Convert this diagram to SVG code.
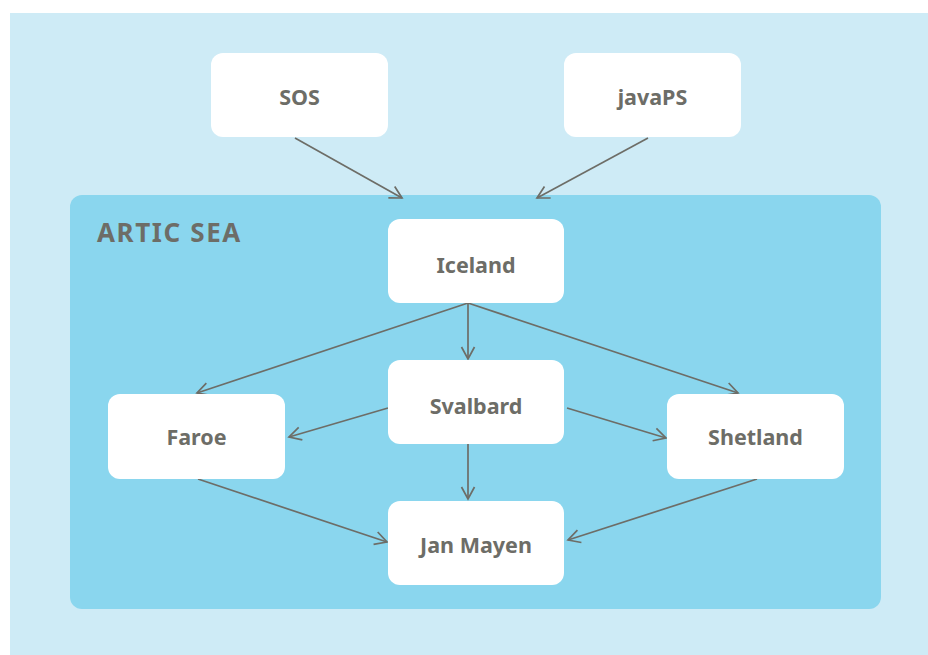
<svg xmlns="http://www.w3.org/2000/svg" width="928" height="655" viewBox="0 0 928 655">
  <defs>
    <style>
      .bg { fill: #ceebf6; }
      .cluster { fill: #8ad6ee; }
      .box { fill: #ffffff; }
      .label { font-family: "Noto Sans", "Open Sans", sans-serif; font-weight: 700; font-size: 21.5px; fill: #6d6d67; text-anchor: middle; }
      .title { font-family: "Noto Sans", "Open Sans", sans-serif; font-weight: 700; font-size: 26px; fill: #6d6d67; letter-spacing: 1.6px; }
      .edge { fill: none; stroke: #6d6d67; stroke-width: 1.7; marker-end: url(#arrow); }
    </style>
    <marker id="arrow" viewBox="-14 -8 16 16" refX="0" refY="0" markerWidth="16" markerHeight="16" markerUnits="userSpaceOnUse" orient="auto">
      <path d="M -12 -6.5 L 0 0 L -12 6.5" fill="none" stroke="#6d6d67" stroke-width="1.7"/>
    </marker>
  </defs>

  <rect class="bg" x="10" y="13" width="918" height="642"/>

  <g id="artic-sea">
    <rect class="cluster" x="70" y="195" width="811" height="414" rx="12"/>
    <text class="title" x="97" y="242">ARTIC SEA</text>
  </g>

  <g id="connectors">
    <line class="edge" x1="295" y1="138" x2="402" y2="198"/>
    <line class="edge" x1="648" y1="138" x2="537" y2="198"/>
    <line class="edge" x1="468" y1="303" x2="197" y2="393"/>
    <line class="edge" x1="468" y1="303" x2="468" y2="359"/>
    <line class="edge" x1="468" y1="303" x2="738" y2="393"/>
    <line class="edge" x1="388" y1="408" x2="289" y2="437"/>
    <line class="edge" x1="567" y1="408" x2="666" y2="438"/>
    <line class="edge" x1="468" y1="444" x2="468" y2="499"/>
    <line class="edge" x1="198" y1="479" x2="387" y2="542"/>
    <line class="edge" x1="757" y1="479" x2="568" y2="540"/>
  </g>

  <g id="sos">
    <rect class="box" x="211" y="53" width="177" height="84" rx="12"/>
    <text class="label" x="299.5" y="105">SOS</text>
  </g>
  <g id="javaps">
    <rect class="box" x="564" y="53" width="177" height="84" rx="12"/>
    <text class="label" x="652.5" y="105">javaPS</text>
  </g>
  <g id="iceland">
    <rect class="box" x="388" y="219" width="176" height="84" rx="12"/>
    <text class="label" x="476" y="273">Iceland</text>
  </g>
  <g id="svalbard">
    <rect class="box" x="388" y="360" width="176" height="84" rx="12"/>
    <text class="label" x="476" y="414">Svalbard</text>
  </g>
  <g id="faroe">
    <rect class="box" x="108" y="394" width="177" height="85" rx="12"/>
    <text class="label" x="196.5" y="445">Faroe</text>
  </g>
  <g id="shetland">
    <rect class="box" x="667" y="394" width="177" height="85" rx="12"/>
    <text class="label" x="755.5" y="445">Shetland</text>
  </g>
  <g id="jan-mayen">
    <rect class="box" x="388" y="501" width="176" height="84" rx="12"/>
    <text class="label" x="476" y="553">Jan Mayen</text>
  </g>
</svg>
